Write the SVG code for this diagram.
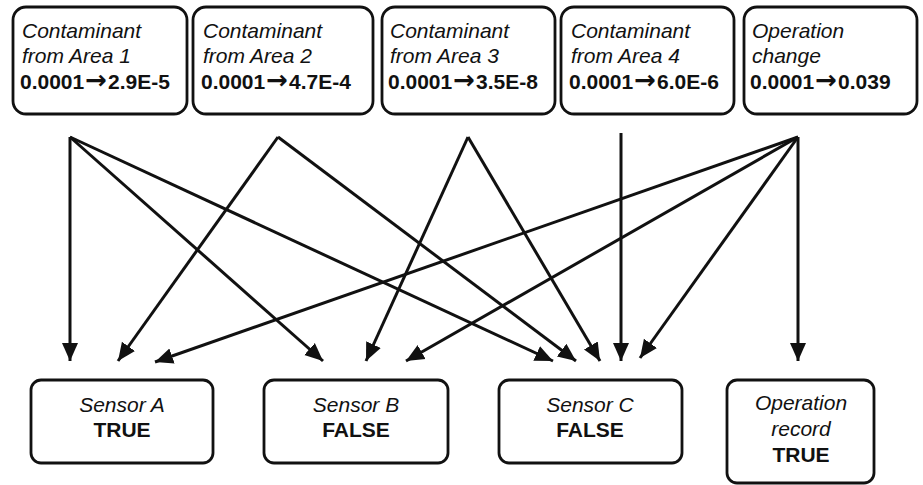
<svg xmlns="http://www.w3.org/2000/svg" width="923" height="485" viewBox="0 0 923 485">
<style>
.box{fill:#fff;stroke:#111;stroke-width:2.8}
.t{font-family:"Liberation Sans",Arial,sans-serif;font-size:21px;fill:#111}
.i{font-style:italic}
.b{font-weight:bold}
.c{text-anchor:middle}
.ar{font-family:"DejaVu Sans",sans-serif;font-weight:bold;font-size:26px}
.edge{stroke:#111;stroke-width:3;fill:none}
</style>
<defs>
<marker id="ah" markerUnits="userSpaceOnUse" markerWidth="19" markerHeight="17" refX="18" refY="8.5" orient="auto" viewBox="0 0 19 17">
<path d="M0,0.5 L18,8.5 L0,16.5 z" fill="#111"/>
</marker>
</defs>
<rect width="923" height="485" fill="#fff"/>
<g id="area1">
<rect class="box" x="13" y="7" width="174" height="107" rx="13"/>
<text class="t i" x="22" y="38">Contaminant</text>
<text class="t i" x="22" y="63">from Area 1</text>
<text class="t b" x="20" y="89">0.0001<tspan class="ar" dx="1">→</tspan><tspan dx="1">2.9E-5</tspan></text>
</g>
<g id="area2">
<rect class="box" x="193" y="7" width="180" height="107" rx="13"/>
<text class="t i" x="203" y="38">Contaminant</text>
<text class="t i" x="203" y="63">from Area 2</text>
<text class="t b" x="201" y="89">0.0001<tspan class="ar" dx="1">→</tspan><tspan dx="1">4.7E-4</tspan></text>
</g>
<g id="area3">
<rect class="box" x="382" y="7" width="173" height="107" rx="13"/>
<text class="t i" x="390" y="38">Contaminant</text>
<text class="t i" x="390" y="63">from Area 3</text>
<text class="t b" x="388" y="89">0.0001<tspan class="ar" dx="1">→</tspan><tspan dx="1">3.5E-8</tspan></text>
</g>
<g id="area4">
<rect class="box" x="561" y="7" width="173" height="107" rx="13"/>
<text class="t i" x="571" y="38">Contaminant</text>
<text class="t i" x="571" y="63">from Area 4</text>
<text class="t b" x="569" y="89">0.0001<tspan class="ar" dx="1">→</tspan><tspan dx="1">6.0E-6</tspan></text>
</g>
<g id="opchange">
<rect class="box" x="744" y="7" width="173" height="107" rx="13"/>
<text class="t i" x="752" y="38">Operation</text>
<text class="t i" x="752" y="63">change</text>
<text class="t b" x="750" y="89">0.0001<tspan class="ar" dx="1">→</tspan><tspan dx="1">0.039</tspan></text>
</g>
<g id="sensorA">
<rect class="box" x="31" y="380" width="182" height="83" rx="10"/>
<text class="t i c" x="122" y="412">Sensor A</text>
<text class="t b c" x="122" y="437">TRUE</text>
</g>
<g id="sensorB">
<rect class="box" x="264" y="380" width="184" height="83" rx="10"/>
<text class="t i c" x="356" y="412">Sensor B</text>
<text class="t b c" x="356" y="437">FALSE</text>
</g>
<g id="sensorC">
<rect class="box" x="499" y="380" width="183" height="83" rx="10"/>
<text class="t i c" x="590" y="412">Sensor C</text>
<text class="t b c" x="590" y="437">FALSE</text>
</g>
<g id="oprecord">
<rect class="box" x="727" y="380" width="147" height="103" rx="10"/>
<text class="t i c" x="801" y="410">Operation</text>
<text class="t i c" x="801" y="436">record</text>
<text class="t b c" x="801" y="462">TRUE</text>
</g>
<g id="connectors">
<line class="edge" x1="70" y1="137" x2="70" y2="361" marker-end="url(#ah)"/>
<line class="edge" x1="70" y1="137" x2="323" y2="361" marker-end="url(#ah)"/>
<line class="edge" x1="70" y1="137" x2="553" y2="361" marker-end="url(#ah)"/>
<line class="edge" x1="278" y1="137" x2="118" y2="361" marker-end="url(#ah)"/>
<line class="edge" x1="278" y1="137" x2="576" y2="361" marker-end="url(#ah)"/>
<line class="edge" x1="468" y1="137" x2="366" y2="361" marker-end="url(#ah)"/>
<line class="edge" x1="468" y1="137" x2="600" y2="361" marker-end="url(#ah)"/>
<line class="edge" x1="621" y1="133" x2="621" y2="361" marker-end="url(#ah)"/>
<line class="edge" x1="798" y1="137" x2="155" y2="362" marker-end="url(#ah)"/>
<line class="edge" x1="798" y1="137" x2="406" y2="361" marker-end="url(#ah)"/>
<line class="edge" x1="798" y1="137" x2="640" y2="358" marker-end="url(#ah)"/>
<line class="edge" x1="798" y1="137" x2="798" y2="361" marker-end="url(#ah)"/>
</g>
</svg>
